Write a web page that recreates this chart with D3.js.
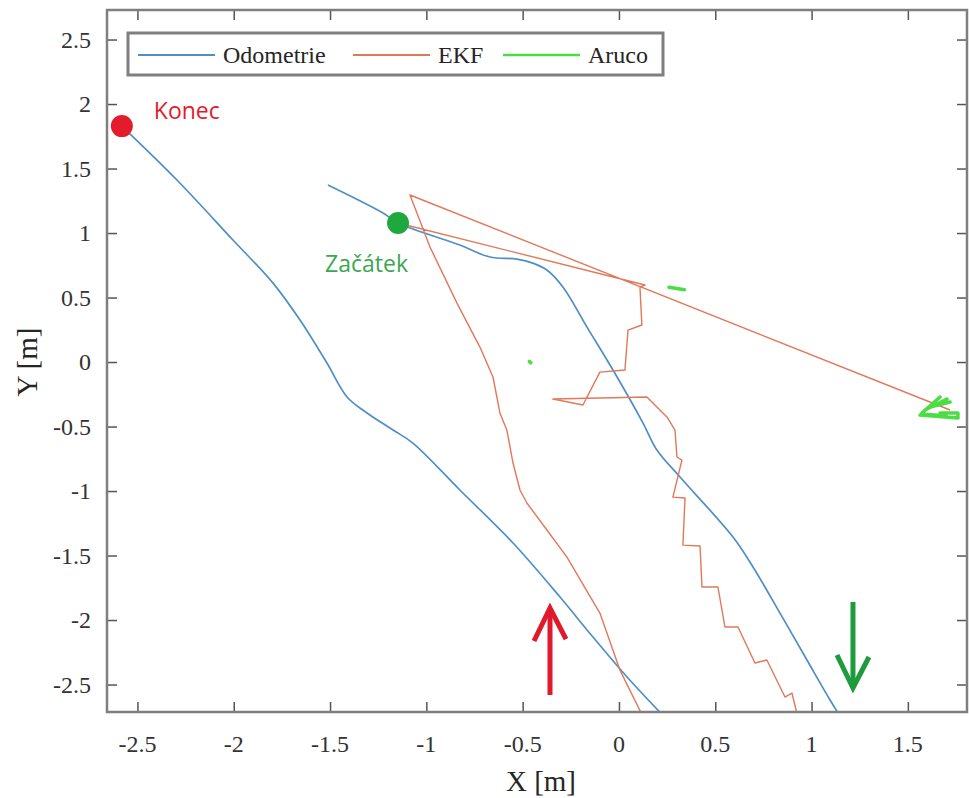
<!DOCTYPE html>
<html>
<head>
<meta charset="utf-8">
<script src="https://cdn.jsdelivr.net/npm/d3@7"></script>
<style>
  html, body { margin: 0; padding: 0; background: #fff; }
  svg { display: block; }
</style>
</head>
<body>
<svg id="chart" width="969" height="798"></svg>
<script>
// ---- data (metres) ----
const xTicks = [-2.5, -2, -1.5, -1, -0.5, 0, 0.5, 1, 1.5];
const yTicks = [-2.5, -2, -1.5, -1, -0.5, 0, 0.5, 1, 1.5, 2, 2.5];
const xTickLabels = ["-2.5", "-2", "-1.5", "-1", "-0.5", "0", "0.5", "1", "1.5"];
const yTickLabels = ["-2.5", "-2", "-1.5", "-1", "-0.5", "0", "0.5", "1", "1.5", "2", "2.5"];

const seriesNames = ["Odometrie", "EKF", "Aruco"];

// Odometry: outbound leg, (gap = leaves the view), return leg to the end
const odomX = [-1.511, -1.225, -1.147, -0.826, -0.670, -0.530, -0.447, -0.374, -0.291, -0.166, -0.031, 0.125, 0.197, 0.317, 0.592, 0.696, 0.836, 0.976, 1.096, 1.150,
  null,
  0.235, 0.042, -0.135, -0.306, -0.550, -0.826, -1.070, -1.173, -1.308, -1.412, -1.516, -1.656, -1.796, -2.004, -2.295, -2.581];
const odomY = [1.372, 1.155, 1.078, 0.907, 0.814, 0.798, 0.767, 0.713, 0.581, 0.271, -0.062, -0.473, -0.682, -0.891, -1.357, -1.589, -1.946, -2.310, -2.620, -2.750,
  null,
  -2.750, -2.442, -2.132, -1.822, -1.403, -0.992, -0.628, -0.527, -0.395, -0.271, -0.008, 0.326, 0.612, 0.946, 1.411, 1.829];

// EKF estimate
const ekfX = [-1.147, 0.135, 0.109, 0.119, 0.047, 0.031, -0.099, -0.187, -0.343, 0.145, 0.249, 0.291, 0.301, 0.327, 0.280, 0.343, 0.332, 0.421, 0.431, 0.514, 0.550, 0.618, 0.706, 0.768, 0.862, 0.898, 0.930,
  null,
  0.125, 0.005, -0.099, -0.270, -0.374, -0.478, -0.514, -0.550, -0.582, -0.618, -0.654, -0.722, -0.841, -0.981, -1.085, 1.719];
const ekfY = [1.078, 0.597, 0.581, 0.287, 0.248, -0.062, -0.078, -0.333, -0.287, -0.271, -0.426, -0.527, -0.736, -0.760, -1.047, -1.054, -1.419, -1.426, -1.744, -1.744, -2.054, -2.054, -2.333, -2.310, -2.597, -2.566, -2.760,
  null,
  -2.750, -2.388, -1.946, -1.512, -1.302, -1.093, -0.992, -0.783, -0.527, -0.395, -0.116, 0.116, 0.457, 0.891, 1.295, -0.372];

// Aruco measurements (short bursts)
const arucoX = [0.26, 0.30, 0.34, null, -0.465, -0.458, null,
  1.573, 1.667, null, 1.589, 1.703, null, 1.615, 1.719, null, 1.563, 1.760, 1.760, 1.667, null, 1.58, 1.64, 1.70];
const arucoY = [0.58, 0.57, 0.56, null, 0.005, -0.005, null,
  -0.395, -0.271, null, -0.372, -0.287, null, -0.349, -0.310, null, -0.411, -0.434, -0.395, -0.395, null, -0.405, -0.41, -0.42];

// annotations
const markerLabels = ["Konec", "Začátek"];
const markerX = [-2.581, -1.147];
const markerY = [1.829, 1.078];
const arrowX = [-0.358, 1.215];
const arrowFromY = [-2.581, -1.860];
const arrowToY = [-1.907, -2.527];

// ---- layout ----
const svg = d3.select("#chart");
const L = 107, R = 967, T = 10, B = 712;
const x = d3.scaleLinear().domain([-2.658, 1.807]).range([L, R]);
const y = d3.scaleLinear().domain([-2.713, 2.729]).range([B, T]);

const colors = { odom: "#4f8fc6", ekf: "#e0785a", aruco: "#4cdc44" };
const serif = "'Liberation Serif', 'Times New Roman', serif";
const sans = "'Open Sans', 'Noto Sans', sans-serif";

svg.append("rect").attr("width", 969).attr("height", 798).attr("fill", "#fff");

svg.append("defs").append("clipPath").attr("id", "clip")
  .append("rect").attr("x", L).attr("y", T).attr("width", R - L).attr("height", B - T);

const toPts = (xs, ys) => xs.map((v, i) => [v, ys[i]]);
const line = d3.line()
  .defined(d => d[0] !== null && d[1] !== null)
  .x(d => x(d[0])).y(d => y(d[1]));
const smoothLine = d3.line()
  .defined(d => d[0] !== null && d[1] !== null)
  .curve(d3.curveCatmullRom.alpha(0.5))
  .x(d => x(d[0])).y(d => y(d[1]));

const plot = svg.append("g").attr("clip-path", "url(#clip)");

plot.append("path").datum(toPts(odomX, odomY))
  .attr("d", smoothLine).attr("fill", "none").attr("stroke", colors.odom)
  .attr("stroke-width", 1.7).attr("stroke-linejoin", "round");

plot.append("path").datum(toPts(ekfX, ekfY))
  .attr("d", line).attr("fill", "none").attr("stroke", colors.ekf)
  .attr("stroke-width", 1.4).attr("stroke-linejoin", "round");

plot.append("path").datum(toPts(arucoX, arucoY))
  .attr("d", line).attr("fill", "none").attr("stroke", colors.aruco)
  .attr("stroke-width", 3.5).attr("stroke-linecap", "round").attr("stroke-linejoin", "round");

// ---- axes (box with inward ticks) ----
const axisColor = "#7f7f7f";
function styleAxis(g) {
  g.select(".domain").remove();
  g.selectAll(".tick line").attr("stroke", "#555").attr("stroke-width", 1.5);
  g.selectAll(".tick text").remove();
}
svg.append("g").attr("transform", `translate(0,${B})`)
  .call(d3.axisBottom(x).tickValues(xTicks).tickSize(-10)).call(styleAxis);
svg.append("g").attr("transform", `translate(0,${T})`)
  .call(d3.axisTop(x).tickValues(xTicks).tickSize(-10)).call(styleAxis);
svg.append("g").attr("transform", `translate(${L},0)`)
  .call(d3.axisLeft(y).tickValues(yTicks).tickSize(-10)).call(styleAxis);
svg.append("g").attr("transform", `translate(${R},0)`)
  .call(d3.axisRight(y).tickValues(yTicks).tickSize(-10)).call(styleAxis);

svg.append("rect").attr("x", L).attr("y", T).attr("width", R - L).attr("height", B - T)
  .attr("fill", "none").attr("stroke", axisColor).attr("stroke-width", 2.5);

// tick labels
svg.append("g").selectAll("text").data(xTicks).join("text")
  .attr("x", d => x(d)).attr("y", B + 40)
  .attr("text-anchor", "middle")
  .style("font-family", serif).style("font-size", "24px").attr("fill", "#333")
  .text((d, i) => xTickLabels[i]);
svg.append("g").selectAll("text").data(yTicks).join("text")
  .attr("x", L - 16).attr("y", d => y(d)).attr("dy", "0.35em")
  .attr("text-anchor", "end")
  .style("font-family", serif).style("font-size", "24px").attr("fill", "#333")
  .text((d, i) => yTickLabels[i]);

// axis titles
svg.append("text").attr("x", 541).attr("y", 791).attr("text-anchor", "middle")
  .style("font-family", serif).style("font-size", "29px").attr("fill", "#262626").text("X [m]");
svg.append("text").attr("transform", "translate(37,362) rotate(-90)").attr("text-anchor", "middle")
  .style("font-family", serif).style("font-size", "29px").attr("fill", "#262626").text("Y [m]");

// ---- legend ----
const lg = svg.append("g");
lg.append("rect").attr("x", 128).attr("y", 33).attr("width", 535).attr("height", 42)
  .attr("fill", "#fff").attr("stroke", axisColor).attr("stroke-width", 3);
const legendColors = [colors.odom, colors.ekf, colors.aruco];
const legendX = [138, 353, 503];
seriesNames.forEach((name, i) => {
  lg.append("line").attr("x1", legendX[i]).attr("x2", legendX[i] + 77)
    .attr("y1", 55).attr("y2", 55)
    .attr("stroke", legendColors[i]).attr("stroke-width", i === 2 ? 2.5 : 2);
  lg.append("text").attr("x", legendX[i] + 85).attr("y", 63)
    .style("font-family", serif).style("font-size", "24px").attr("fill", "#262626").text(name);
});

// ---- annotations ----
const markColors = ["#e31b2b", "#1fa83d"];
const labelColors = ["#e31b2b", "#3aa752"];
const labelDx = [32, -73];
const labelDy = [-7, 49];
markerLabels.forEach((lab, i) => {
  svg.append("circle").attr("cx", x(markerX[i])).attr("cy", y(markerY[i])).attr("r", 11)
    .attr("fill", markColors[i]);
  svg.append("text").attr("x", x(markerX[i]) + labelDx[i]).attr("y", y(markerY[i]) + labelDy[i])
    .style("font-family", sans).style("font-size", "23px").attr("fill", labelColors[i]).text(lab);
});

const arrowColors = ["#e0192b", "#1e9b3c"];
arrowX.forEach((ax, i) => {
  const px = x(ax), y0 = y(arrowFromY[i]), y1 = y(arrowToY[i]);
  const dir = y1 < y0 ? 1 : -1; // 1 = arrow points up
  const g = svg.append("g").attr("stroke", arrowColors[i]).attr("stroke-width", 5)
    .attr("fill", "none").attr("stroke-linecap", "butt").attr("stroke-linejoin", "miter");
  g.append("line").attr("x1", px).attr("y1", y0).attr("x2", px).attr("y2", y1 + dir * 2);
  g.append("path").attr("d", `M${px - 16},${y1 + dir * 33} L${px},${y1} L${px + 16},${y1 + dir * 31}`);
});
</script>
</body>
</html>
